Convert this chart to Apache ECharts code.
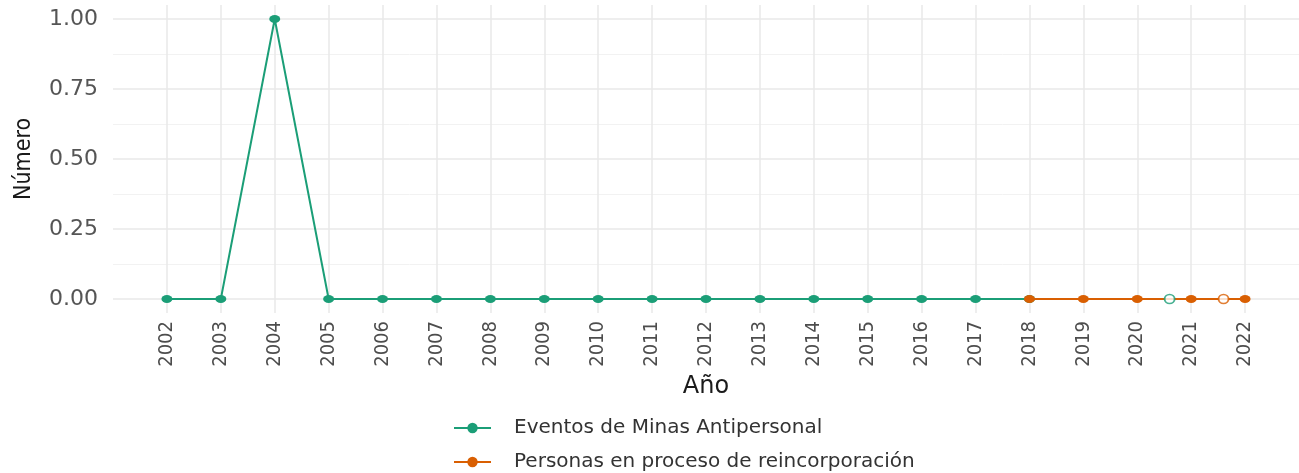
<!DOCTYPE html>
<html><head><meta charset="utf-8">
<script src="https://cdn.jsdelivr.net/npm/echarts@6/dist/echarts.min.js"></script>
<style>html,body{margin:0;padding:0;background:#fff}#c{width:1299px;height:473px}</style>
</head><body><div id="c"></div>
<script>
const years = [2002,2003,2004,2005,2006,2007,2008,2009,2010,2011,2012,2013,2014,2015,2016,2017,2018,2019,2020,2021,2022];
const minasYears = [2002,2003,2004,2005,2006,2007,2008,2009,2010,2011,2012,2013,2014,2015,2016,2017,2018];
const minasValues = [0,0,1,0,0,0,0,0,0,0,0,0,0,0,0,0,0];
const reincYears = [2018,2019,2020,2021,2022];
const reincValues = [0,0,0,0,0];
const hollowMinas = [[2020.6,0]];
const hollowReinc = [[2021.6,0]];
const yTicks = [0,0.25,0.5,0.75,1];
const yMinor = [0.125,0.375,0.625,0.875];
const seriesNames = ['Eventos de Minas Antipersonal','Personas en proceso de reincorporación'];
const green = '#1b9e77', orange = '#d95f02';

const chart = echarts.init(document.getElementById('c'));
chart.setOption({
  animation:false,
  backgroundColor:'#fff',
  grid:{left:113,right:-2,top:5,bottom:160},
  legend:{
    data:seriesNames, orient:'vertical', left:453, top:418, height:60, padding:0, itemGap:14, itemWidth:37, itemHeight:13,
    textStyle:{fontFamily:'DejaVu Sans',fontSize:20,color:'#333',padding:[0,0,0,18]}
  },
  xAxis:{
    type:'value', min:2001, max:2023,
    name:'Año', nameLocation:'middle', nameGap:56,
    nameTextStyle:{fontFamily:'DejaVu Sans',fontSize:24,color:'#1a1a1a'},
    axisLine:{show:false},
    axisTick:{show:false, customValues:years},
    axisLabel:{customValues:years, rotate:90, margin:8, fontFamily:'DejaVu Sans Condensed', fontSize:20, color:'#4d4d4d', formatter:v=>String(v)},
    splitLine:{show:true,lineStyle:{color:'#e8e8e8',width:1.5}}
  },
  yAxis:[{
    type:'value', min:-0.05, max:1.05,
    name:'Número', nameLocation:'middle', nameGap:77, nameRotate:90,
    nameTextStyle:{fontFamily:'DejaVu Sans Condensed',fontSize:23,color:'#1a1a1a'},
    axisLine:{show:false},
    axisTick:{show:false, customValues:yTicks},
    axisLabel:{customValues:yTicks, margin:15, fontFamily:'DejaVu Sans', fontSize:22, color:'#555', formatter:v=>v.toFixed(2)},
    splitLine:{show:true,lineStyle:{color:'#e8e8e8',width:1.5}}
  },{
    type:'value', min:-0.05, max:1.05, position:'left',
    axisLine:{show:false},
    axisTick:{show:false, customValues:yMinor},
    axisLabel:{show:false, customValues:yMinor},
    splitLine:{show:true,lineStyle:{color:'#f2f2f2',width:1}}
  }],
  series:[
    {name:seriesNames[0], type:'line', data:minasYears.map((y,i)=>[y,minasValues[i]]),
     color:green, symbol:'circle', symbolSize:[11,8], lineStyle:{width:2}, z:3},
    {name:seriesNames[1], type:'line', data:reincYears.map((y,i)=>[y,reincValues[i]]),
     color:orange, symbol:'circle', symbolSize:[11,8], lineStyle:{width:2}, z:4},
    {name:'hm', type:'scatter', data:hollowMinas, symbol:'circle', symbolSize:[10,9],
     itemStyle:{color:'#fff',borderWidth:1.8,borderColor:green}, z:5},
    {name:'hr', type:'scatter', data:hollowReinc, symbol:'circle', symbolSize:[10,9],
     itemStyle:{color:'#fff',borderWidth:1.8,borderColor:orange}, z:5}
  ]
});
</script></body></html>
